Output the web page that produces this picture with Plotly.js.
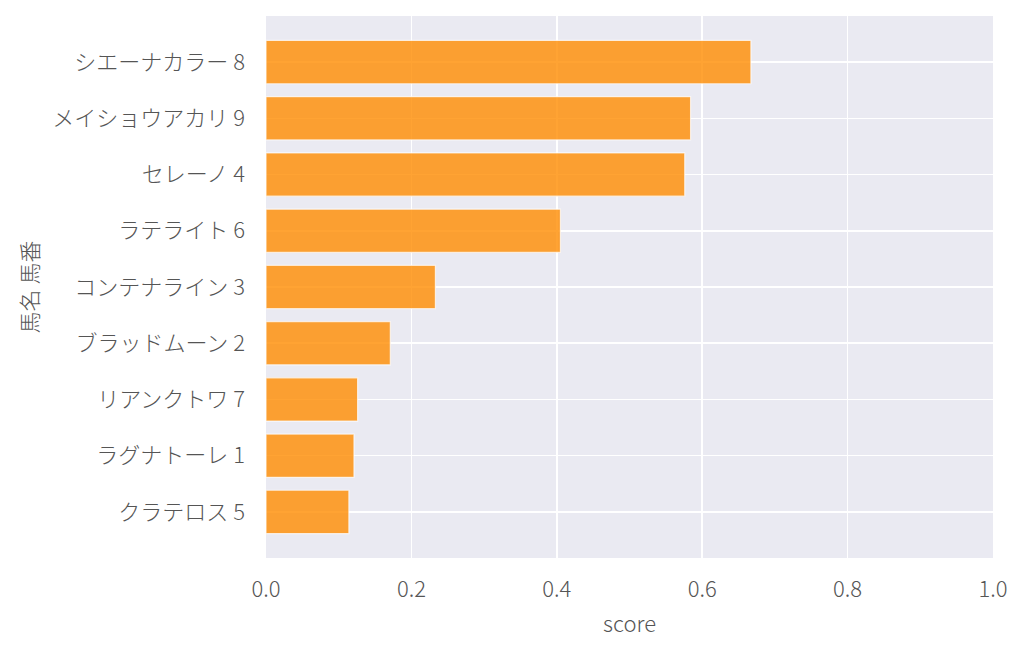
<!DOCTYPE html>
<html>
<head>
<meta charset="utf-8">
<script src="https://cdn.plot.ly/plotly-3.0.1.min.js"></script>
<style>
  body { margin: 0; background: #fff; }
  #chart { width: 1024px; height: 652px; }
</style>
</head>
<body>
<div id="chart"></div>
<script>
// horses, top to bottom as shown
const horses = [
  'シエーナカラー 8',
  'メイショウアカリ 9',
  'セレーノ 4',
  'ラテライト 6',
  'コンテナライン 3',
  'ブラッドムーン 2',
  'リアンクトワ 7',
  'ラグナトーレ 1',
  'クラテロス 5',
];
const scores = [0.667, 0.584, 0.576, 0.405, 0.233, 0.171, 0.126, 0.121, 0.114];
const xTicks = [0, 0.2, 0.4, 0.6, 0.8, 1.0];
const xTickLabels = ['0.0', '0.2', '0.4', '0.6', '0.8', '1.0'];

const font = 'Noto Sans CJK JP, Noto Sans, sans-serif';
const txt = { family: font, size: 22, color: '#555', weight: 300 };

const trace = {
  type: 'bar',
  orientation: 'h',
  x: scores,
  y: horses,
  marker: {
    color: 'rgba(255,140,0,0.8)',
    line: { color: 'rgba(255,255,255,0.7)', width: 1.2 },
  },
  hoverinfo: 'x+y',
};

const layout = {
  width: 1024,
  height: 652,
  margin: { l: 266, r: 31, t: 16, b: 94 },
  paper_bgcolor: '#ffffff',
  plot_bgcolor: '#eaeaf2',
  bargap: 0.23,
  showlegend: false,
  font: txt,
  xaxis: {
    range: [0, 1.0],
    tickvals: xTicks,
    ticktext: xTickLabels,
    showgrid: true,
    gridcolor: '#ffffff',
    gridwidth: 1.6,
    zeroline: false,
    showline: false,
    ticks: '',
    ticklabelstandoff: 16,
    tickfont: txt,
    title: { text: 'score', standoff: 14, font: txt },
  },
  yaxis: {
    type: 'category',
    autorange: false,
    range: [8.82, -0.82],
    showgrid: true,
    gridcolor: '#ffffff',
    gridwidth: 1.6,
    zeroline: false,
    showline: false,
    ticks: '',
    ticklabelstandoff: 20,
    tickfont: txt,
    title: { text: '馬名 馬番', standoff: 7, font: txt },
  },
};

Plotly.newPlot('chart', [trace], layout, { displayModeBar: false, staticPlot: true });
</script>
</body>
</html>
